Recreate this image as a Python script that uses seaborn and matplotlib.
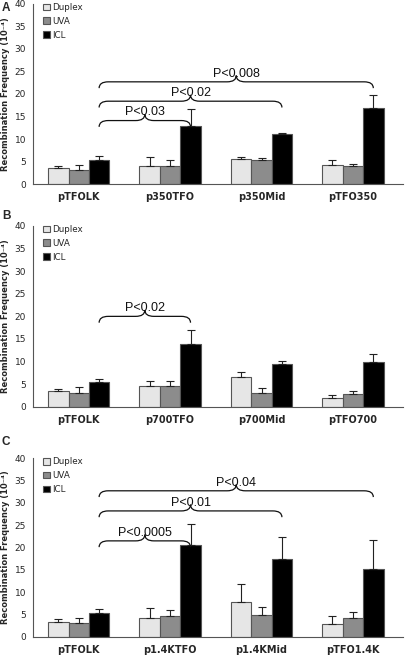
import matplotlib
matplotlib.use("Agg")
import matplotlib.pyplot as plt
from matplotlib.path import Path
from matplotlib.patches import PathPatch
import seaborn as sns
import pandas as pd
import numpy as np

treatments = ["Duplex", "UVA", "ICL"]

# panel A
cats_a = ["pTFOLK", "p350TFO", "p350Mid", "pTFO350"]
mean_a = {"Duplex": [3.5, 4.1, 5.6, 4.3], "UVA": [3.1, 4.0, 5.4, 4.0], "ICL": [5.4, 12.8, 11.1, 16.8]}
err_a = {"Duplex": [0.6, 1.8, 0.4, 1.1], "UVA": [1.2, 1.4, 0.4, 0.5], "ICL": [0.9, 3.8, 0.2, 3.0]}
pvals_a = ["P<0.03", "P<0.02", "P<0.008"]
brace_y_a = [12.7, 17.0, 21.3]

# panel B
cats_b = ["pTFOLK", "p700TFO", "p700Mid", "pTFO700"]
mean_b = {"Duplex": [3.4, 4.6, 6.6, 2.0], "UVA": [3.1, 4.5, 3.1, 2.8], "ICL": [5.4, 13.9, 9.5, 9.9]}
err_b = {"Duplex": [0.6, 1.2, 1.0, 0.6], "UVA": [1.2, 1.3, 1.0, 0.6], "ICL": [0.8, 3.0, 0.6, 1.8]}
pvals_b = ["P<0.02"]
brace_y_b = [18.6]

# panel C
cats_c = ["pTFOLK", "p1.4KTFO", "p1.4KMid", "pTFO1.4K"]
mean_c = {"Duplex": [3.4, 4.3, 7.9, 2.9], "UVA": [3.1, 4.8, 5.0, 4.2], "ICL": [5.4, 20.5, 17.5, 15.2]}
err_c = {"Duplex": [0.7, 2.2, 4.0, 1.8], "UVA": [1.2, 1.3, 1.6, 1.5], "ICL": [0.9, 4.8, 4.9, 6.6]}
pvals_c = ["P<0.0005", "P<0.01", "P<0.04"]
brace_y_c = [20.1, 26.8, 31.3]

colors = {"Duplex": "#e6e6e6", "UVA": "#8c8c8c", "ICL": "#000000"}


def brace(ax, x0, x1, y0, label, h=1.4, rx=0.1):
    xm = (x0 + x1) / 2
    verts = [(x0, y0), (x0, y0 + h), (x0 + rx, y0 + h),
             (xm - rx, y0 + h), (xm, y0 + h), (xm, y0 + 2 * h),
             (xm, y0 + h), (xm + rx, y0 + h),
             (x1 - rx, y0 + h), (x1, y0 + h), (x1, y0)]
    codes = [Path.MOVETO, Path.CURVE3, Path.CURVE3,
             Path.LINETO, Path.CURVE3, Path.CURVE3,
             Path.CURVE3, Path.CURVE3,
             Path.LINETO, Path.CURVE3, Path.CURVE3]
    ax.add_patch(PathPatch(Path(verts, codes), fill=False, lw=0.9, edgecolor="#111111"))
    ax.text(xm, y0 + h + 0.5, label, ha="center", va="bottom", fontsize=9,
            family="Liberation Sans", color="#111111")


def panel(ax, cats, means, errs, pvals, brace_ys):
    rows = []
    for t in treatments:
        for c, m in zip(cats, means[t]):
            rows.append({"construct": c, "treatment": t, "value": m})
    df = pd.DataFrame(rows)
    sns.barplot(data=df, x="construct", y="value", hue="treatment", order=cats,
                hue_order=treatments, palette=colors, width=0.67, errorbar=None,
                edgecolor="#555555", linewidth=0.8, ax=ax)
    icl_x = []
    for t, cont in zip(treatments, ax.containers):
        xs = [b.get_x() + b.get_width() / 2 for b in cont]
        ys = [b.get_height() for b in cont]
        e = errs[t]
        ax.errorbar(xs, ys, yerr=[np.zeros(len(e)), e], fmt="none", ecolor="#222222",
                    elinewidth=0.8, capsize=2.7, capthick=0.8, zorder=1)
        if t == "ICL":
            icl_x = xs
    for i, (lab, yb) in enumerate(zip(pvals, brace_ys)):
        brace(ax, icl_x[0], icl_x[i + 1], yb, lab)

    ax.set_ylim(0, 40)
    ax.set_xlim(-0.5, 3.55)
    ax.set_yticks(range(0, 41, 5))
    ax.set_xlabel("")
    ax.set_ylabel("Recombination Frequency (10⁻⁴)", fontsize=6, fontweight="bold")
    ax.yaxis.set_label_coords(-0.062, 0.5)
    ax.tick_params(axis="y", labelsize=6.5, length=3, color="#555555", width=0.8, pad=2)
    ax.tick_params(axis="x", which="major", length=0, labelsize=7, pad=6)
    ax.set_xticks([0.5, 1.5, 2.5], minor=True)
    ax.tick_params(axis="x", which="minor", length=3, color="#555555", width=0.8)
    for lbl in ax.get_xticklabels():
        lbl.set_fontweight("bold")
    for s in ["top", "right"]:
        ax.spines[s].set_visible(False)
    for s in ["left", "bottom"]:
        ax.spines[s].set_color("#555555")
        ax.spines[s].set_linewidth(0.8)
    ax.legend(loc="upper left", bbox_to_anchor=(0.028, 1.005), frameon=False, fontsize=6.3,
              handlelength=0.8, handleheight=0.8, handletextpad=0.2, labelspacing=0.55,
              borderpad=0, borderaxespad=0)


sns.set_style("white")
plt.rcParams["font.family"] = ["DejaVu Sans"]
fig = plt.figure(figsize=(4.05, 6.55), dpi=100)
ax_a = fig.add_axes([0.0815, 0.719, 0.914, 0.275])
ax_b = fig.add_axes([0.0815, 0.379, 0.914, 0.276])
ax_c = fig.add_axes([0.0815, 0.0275, 0.914, 0.273])
panel(ax_a, cats_a, mean_a, err_a, pvals_a, brace_y_a)
panel(ax_b, cats_b, mean_b, err_b, pvals_b, brace_y_b)
panel(ax_c, cats_c, mean_c, err_c, pvals_c, brace_y_c)
for letter, ypix in [("A", 8), ("B", 216), ("C", 442)]:
    fig.text(2 / 405, 1 - ypix / 655, letter, fontsize=8.5, fontweight="bold",
             family="Liberation Sans", ha="left", va="center")
fig.savefig("out.png", dpi=100)
